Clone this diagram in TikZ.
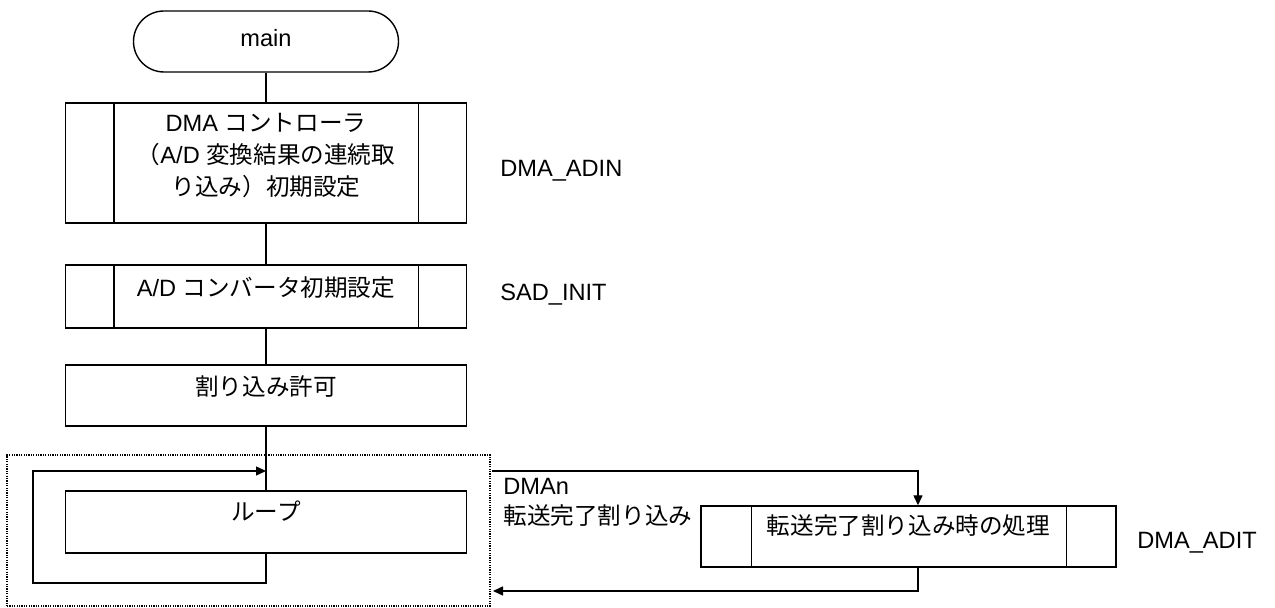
\documentclass[tikz,border=0pt]{standalone}
\usepackage{fontspec}
\setmainfont{Liberation Sans}
\newfontfamily\cjk{Noto Sans CJK JP}
\usetikzlibrary{arrows.meta}
\begin{document}
\begin{tikzpicture}[x=0.5pt,y=-0.5pt,
  font=\fontsize{11.8}{16}\selectfont,
  lw/.style={line width=0.7pt},
  box/.style={draw, lw, inner sep=0pt, minimum width=200.5pt},
  term/.style={draw, lw, inner sep=0pt, rounded corners=15.25pt, minimum width=132.5pt, minimum height=30.5pt},
  grp/.style={draw, line width=0.6pt, dash pattern=on 0.6pt off 0.6pt, inner sep=0pt},
  lbl/.style={anchor=base west, inner sep=0pt},
  arr/.style={lw, -{Triangle[length=5pt,width=4.5pt]}}]
\useasboundingbox (0,0) rectangle (1275,608);

% main flow
\node[term, text height=18pt, text depth=12.5pt] (main) at (266,41.5) {main};
\node[box, minimum height=60pt, text height=14.25pt, text depth=45.75pt] (dma) at (266,163)
  {\begin{tabular}[t]{@{}c@{}}DMA {\cjk コントローラ}\\{\cjk （}A/D {\cjk 変換結果の連続取}\\{\cjk り込み）初期設定}\end{tabular}};
\node[box, minimum height=31.5pt, text height=15.75pt, text depth=15.75pt] (ad) at (266,296.5)
  {A/D {\cjk コンバータ初期設定}};
\node[box, minimum height=30.5pt, text height=15.25pt, text depth=15.25pt] (ie) at (266,395.5)
  {\cjk 割り込み許可};
\node[box, minimum height=31pt, text height=15pt, text depth=16pt] (loop) at (266,522)
  {\cjk ループ};
\node[grp, minimum width=241.5pt, minimum height=75.5pt] (grp) at (248.5,530.5) {};
\node[box, minimum width=207.5pt, minimum height=30.5pt, text height=14.5pt, text depth=16pt] (adit) at (908.5,536.5)
  {\cjk 転送完了割り込み時の処理};

% subroutine side bars
\foreach \n in {dma,ad}{
  \draw[lw] ([xshift=24.5pt]\n.north west) -- ([xshift=24.5pt]\n.south west);
  \draw[lw] ([xshift=-24.5pt]\n.north east) -- ([xshift=-24.5pt]\n.south east);
}
\draw[lw] ([xshift=25.5pt]adit.north west) -- ([xshift=25.5pt]adit.south west);
\draw[lw] ([xshift=-25pt]adit.north east) -- ([xshift=-25pt]adit.south east);

% labels
\node[lbl] (l1) at (500,177) {DMA\_ADIN};
\node[lbl] (l2) at (500,300.5) {SAD\_INIT};
\node[lbl] (l3) at (503,495) {DMAn};
\node[lbl] (l4) at (503,525) {\cjk 転送完了割り込み};
\node[lbl] (l5) at (1137,549) {DMA\_ADIT};

% connectors
\draw[lw] (main.south) -- (dma.north);
\draw[lw] (dma.south) -- (ad.north);
\draw[lw] (ad.south) -- (ie.north);
\draw[lw] (ie.south) -- (loop.north);

\coordinate (lb) at (33,583);
\coordinate (lt) at (33,471);
\coordinate (lj) at (266,471);
\draw[arr] (loop.south) |- (lb) -- (lt) -- (lj);

\coordinate (os) at (492,471);
\coordinate (rt) at (493,591);
\draw[arr] (os) -| ([xshift=4.75pt]adit.north);
\draw[arr] ([xshift=4.75pt]adit.south) |- (rt);
\end{tikzpicture}
\end{document}
